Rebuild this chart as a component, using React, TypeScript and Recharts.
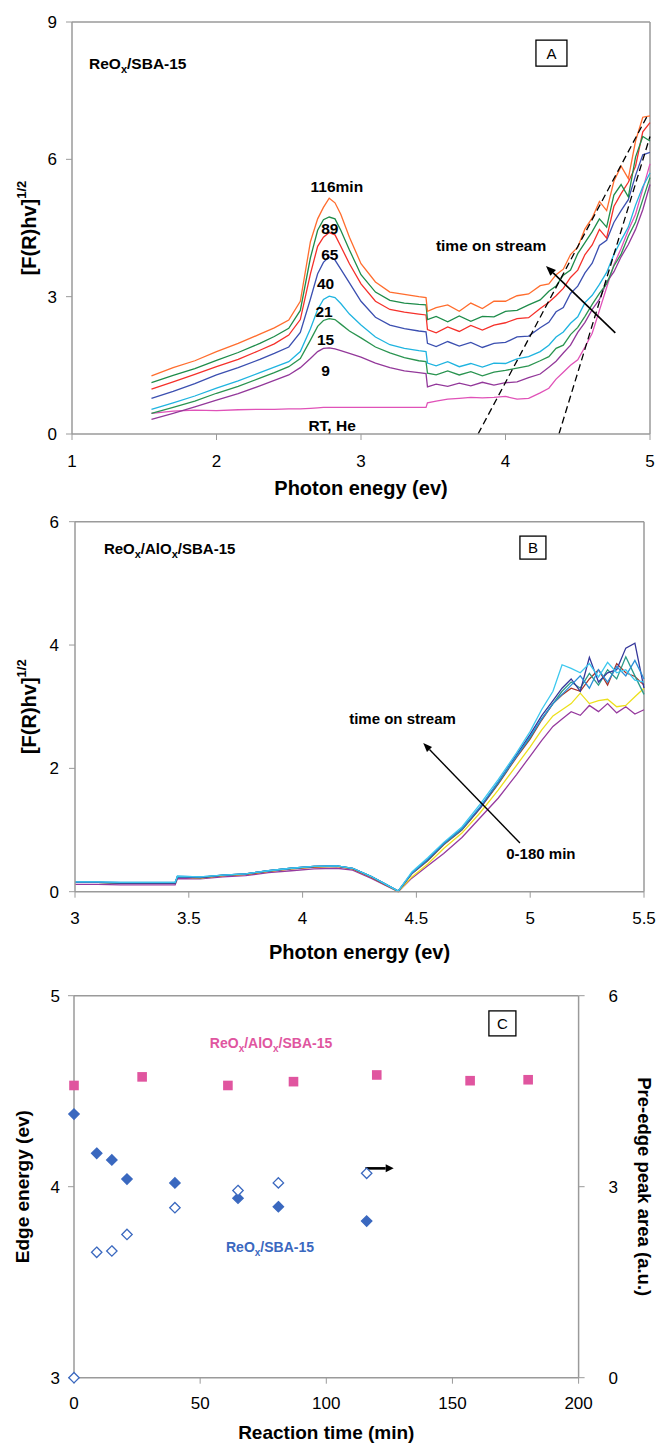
import React from 'react';
import { LineChart, Line, ScatterChart, Scatter, XAxis, YAxis, ReferenceLine, ReferenceDot, Label } from 'recharts';

const FONT = '"Liberation Sans", Arial, Helvetica, sans-serif';
const AXIS_GRAY = '#9a9a9a';

// ---------------- Panel A data ----------------
const aXTicks = [1, 2, 3, 4, 5];
const aYTicks = [0, 3, 6, 9];
const aEnergy = [1.55,1.7,1.85,2.0,2.15,2.3,2.4,2.5,2.58,2.65,2.7,2.74,2.78,2.82,2.86,2.92,3.0,3.1,3.2,3.3,3.4,3.45,3.46,3.52,3.6,3.68,3.76,3.84,3.92,4.0,4.08,4.16,4.24,4.3,4.35,4.4,4.45,4.5,4.55,4.6,4.65,4.7,4.75,4.8,4.85,4.9,4.95,5.0];
const a116min = [1.27,1.45,1.60,1.80,1.98,2.18,2.32,2.49, 2.90,4.20,4.70,4.95,5.15,5.05,4.80,4.30, 3.72,3.32,3.10,3.05,3.00,2.98,2.68,2.76, 2.82,2.68,2.86,2.74,2.90,2.90,3.02,3.06, 3.24,3.28,3.48,3.60,3.92,4.08,4.48,4.72, 5.08,4.88,5.52,5.85,5.58,6.40,6.92,6.95];
const a89min = [1.12,1.28,1.43,1.61,1.78,1.98,2.13,2.31, 2.70,3.85,4.45,4.68,4.74,4.70,4.45,4.02, 3.48,3.10,2.92,2.86,2.83,2.82,2.50,2.57, 2.45,2.58,2.46,2.57,2.56,2.68,2.70,2.82, 2.93,3.12,3.23,3.47,3.58,3.94,4.18,4.42, 4.70,4.52,5.22,5.45,5.18,6.05,6.50,6.40];
const a65min = [0.98,1.14,1.30,1.47,1.63,1.83,1.97,2.16, 2.50,3.50,4.10,4.30,4.40,4.35,4.10,3.72, 3.28,2.90,2.72,2.66,2.62,2.60,2.28,2.21, 2.34,2.24,2.37,2.27,2.38,2.43,2.52,2.54, 2.74,2.88,3.02,3.18,3.42,3.58,3.92,4.13, 4.47,4.28,4.97,5.25,5.50,5.85,6.60,6.80];
const a40min = [0.78,0.93,1.10,1.29,1.45,1.63,1.76,1.90, 2.22,2.95,3.50,3.75,3.87,3.80,3.60,3.30, 2.90,2.55,2.38,2.30,2.25,2.23,1.98,1.91, 2.02,1.92,2.00,1.89,1.98,2.00,2.12,2.14, 2.32,2.44,2.67,2.76,3.07,3.23,3.52,3.73, 4.12,4.23,4.62,4.88,5.12,5.65,6.10,6.15];
const a21min = [0.54,0.68,0.83,1.00,1.16,1.34,1.46,1.58, 1.80,2.30,2.72,2.94,3.01,2.98,2.85,2.62, 2.38,2.12,1.95,1.87,1.82,1.80,1.55,1.49, 1.58,1.47,1.54,1.46,1.55,1.54,1.64,1.69, 1.80,1.94,2.12,2.23,2.42,2.56,2.87,3.03, 3.27,3.53,3.92,4.23,4.52,5.00,5.40,5.70];
const a15min = [0.45,0.58,0.72,0.89,1.04,1.22,1.34,1.47, 1.65,2.05,2.35,2.48,2.52,2.50,2.40,2.25, 2.10,1.90,1.77,1.67,1.60,1.58,1.33,1.29, 1.38,1.29,1.36,1.27,1.35,1.39,1.44,1.49, 1.60,1.69,1.87,1.94,2.17,2.33,2.57,2.83, 3.07,3.28,3.67,3.93,4.32,4.63,5.12,5.60];
const a9min = [0.32,0.45,0.59,0.74,0.88,1.05,1.17,1.29, 1.45,1.65,1.80,1.87,1.88,1.86,1.82,1.76, 1.68,1.55,1.45,1.38,1.34,1.32,1.03,1.09, 1.04,1.11,1.05,1.13,1.07,1.12,1.14,1.23, 1.31,1.46,1.59,1.77,1.94,2.22,2.44,2.72, 2.94,3.32,3.54,3.87,4.14,4.47,4.90,5.45];
const aRTHe = [0.45,0.50,0.52,0.51,0.53,0.54,0.54,0.55, 0.55,0.56,0.57,0.58,0.58,0.58,0.58,0.58, 0.58,0.58,0.58,0.58,0.58,0.58,0.68,0.72, 0.76,0.78,0.80,0.79,0.80,0.82,0.76,0.78, 0.90,1.00,1.20,1.35,1.50,1.62,1.90,2.20, 2.70,3.20,3.70,4.05,4.45,4.80,5.35,5.90];
const aRows = aEnergy.map((e, i) => ({ e, rt: aRTHe[i], m9: a9min[i], m15: a15min[i], m21: a21min[i], m40: a40min[i], m65: a65min[i], m89: a89min[i], m116: a116min[i] }));

// ---------------- Panel B data ----------------
const bXTicks = [3, 3.5, 4, 4.5, 5, 5.5];
const bYTicks = [0, 2, 4, 6];
const bEnergy = [3.0,3.1,3.2,3.3,3.44,3.45,3.55,3.65,3.75,3.85,3.95,4.05,4.15,4.22,4.3,4.36,4.42,4.48,4.55,4.62,4.7,4.78,4.86,4.94,5.0,5.05,5.1,5.14,5.18,5.22,5.26,5.3,5.34,5.38,5.42,5.46,5.5];
const bPurple = [0.12,0.12,0.11,0.11,0.11,0.21,0.21,0.24,0.26,0.31,0.34,0.37,0.38,0.35,0.22,0.11,0.00,0.22,0.42,0.62,0.88,1.20,1.52,1.90,2.20,2.45,2.68,2.80,2.92,2.86,3.02,2.92,3.05,2.90,3.00,2.88,2.95];
const bYellow = [0.15,0.15,0.14,0.14,0.14,0.24,0.22,0.26,0.28,0.33,0.37,0.40,0.41,0.37,0.24,0.12,0.00,0.24,0.45,0.70,0.95,1.28,1.65,2.05,2.35,2.62,2.85,2.95,3.05,3.22,3.05,3.10,3.12,3.00,3.02,3.16,3.30];
const bRed = [0.15,0.15,0.14,0.14,0.14,0.24,0.23,0.26,0.28,0.33,0.37,0.40,0.41,0.37,0.24,0.12,0.01,0.29,0.50,0.76,1.00,1.35,1.75,2.18,2.48,2.78,3.05,3.19,3.30,3.25,3.45,3.60,3.35,3.70,3.55,3.49,3.35];
const bTeal = [0.15,0.15,0.14,0.14,0.14,0.24,0.23,0.27,0.29,0.34,0.38,0.41,0.42,0.38,0.25,0.13,0.01,0.30,0.51,0.77,1.01,1.36,1.76,2.20,2.50,2.80,3.05,3.25,3.40,3.30,3.54,3.35,3.60,3.45,3.81,3.50,3.20];
const bNavy = [0.15,0.15,0.14,0.14,0.14,0.24,0.23,0.27,0.29,0.34,0.38,0.41,0.42,0.38,0.25,0.13,0.01,0.30,0.52,0.78,1.02,1.36,1.78,2.22,2.55,2.85,3.10,3.30,3.45,3.25,3.80,3.40,3.55,3.60,3.95,4.03,3.30];
const bSky = [0.16,0.16,0.15,0.15,0.15,0.25,0.24,0.27,0.29,0.34,0.38,0.41,0.42,0.38,0.25,0.13,0.01,0.30,0.53,0.78,1.02,1.38,1.78,2.20,2.52,2.80,3.05,3.20,3.35,3.50,3.30,3.60,3.40,3.65,3.50,3.75,3.45];
const bCyan = [0.16,0.16,0.15,0.15,0.15,0.25,0.24,0.27,0.29,0.34,0.38,0.41,0.42,0.38,0.25,0.13,0.01,0.32,0.55,0.80,1.05,1.42,1.82,2.25,2.60,2.95,3.25,3.68,3.62,3.55,3.70,3.48,3.72,3.55,3.60,3.43,3.40];
const bRows = bEnergy.map((e, i) => ({ e, purple: bPurple[i], yellow: bYellow[i], red: bRed[i], teal: bTeal[i], navy: bNavy[i], sky: bSky[i], cyan: bCyan[i] }));

// ---------------- Panel C data ----------------
const cXTicks = [0, 50, 100, 150, 200];
const cLeftTicks = [3, 4, 5];
const cRightTicks = [0, 3, 6];
const cTimeAl = [0, 27, 61, 87, 120, 157, 180];
const cEdgeAl = [4.53, 4.575, 4.53, 4.55, 4.585, 4.555, 4.56];
const cTimeRe = [0, 9, 15, 21, 40, 65, 81, 116];
const cEdgeRe = [4.38, 4.175, 4.14, 4.04, 4.02, 3.94, 3.895, 3.82];
const cPreEdgeRe = [0, 1.97, 1.99, 2.25, 2.67, 2.94, 3.06, 3.21];
const cAlRows = cTimeAl.map((t, i) => ({ t, v: cEdgeAl[i] }));
const cReRows = cTimeRe.map((t, i) => ({ t, v: cEdgeRe[i] }));
const cPreRows = cTimeRe.map((t, i) => ({ t, v: cPreEdgeRe[i] }));

// ---------------- helpers ----------------
const PINK_C = '#e0559f';
const BLUE_C = '#3a68bf';

const tickStyle = { fontSize: 17, fill: '#000', fontFamily: FONT };
const axisLineStyle = { stroke: AXIS_GRAY, strokeWidth: 1.5 };
const tickLineStyle = { stroke: AXIS_GRAY, strokeWidth: 1 };

const center = (vb: any) => ({ cx: vb.x + (vb.width || 0) / 2, cy: vb.y + (vb.height || 0) / 2 });

const textNote = (content: React.ReactNode, size: number, anchor: 'start' | 'middle' = 'middle', color = '#000') => (p: any) => {
  const { cx, cy } = center(p.viewBox);
  return (
    <text x={cx} y={cy} dy="0.36em" textAnchor={anchor} fontFamily={FONT} fontWeight="bold" fontSize={size} fill={color}>
      {content}
    </text>
  );
};

const boxNote = (letter: string, w: number, h: number) => (p: any) => {
  const { cx, cy } = center(p.viewBox);
  return (
    <g>
      <rect x={cx - w / 2} y={cy - h / 2} width={w} height={h} fill="#fff" stroke="#000" strokeWidth={1.3} />
      <text x={cx} y={cy} dy="0.36em" textAnchor="middle" fontFamily={FONT} fontSize={15} fill="#000">{letter}</text>
    </g>
  );
};

const note = (key: string, x: number, y: number, render: (p: any) => any, yAxisId?: string) => (
  <ReferenceDot key={key} x={x} y={y} r={1} fill="none" stroke="none" ifOverflow="visible" label={render} {...(yAxisId ? { yAxisId } : {})} />
);

const arrowShape = (width: number, headLen: number, headHalf: number) => (p: any) => {
  const { x1, y1, x2, y2 } = p;
  const a = Math.atan2(y2 - y1, x2 - x1);
  const bx = x2 - headLen * Math.cos(a);
  const by = y2 - headLen * Math.sin(a);
  const nx = -Math.sin(a) * headHalf;
  const ny = Math.cos(a) * headHalf;
  return (
    <g>
      <line x1={x1} y1={y1} x2={bx} y2={by} stroke="#000" strokeWidth={width} />
      <polygon points={`${x2},${y2} ${bx + nx},${by + ny} ${bx - nx},${by - ny}`} fill="#000" />
    </g>
  );
};

const xTitle = (text: string, baselineDy: number, size: number) => (p: any) => {
  const vb = p.viewBox;
  return (
    <text x={vb.x + vb.width / 2} y={vb.y + baselineDy} textAnchor="middle" fontFamily={FONT} fontWeight="bold" fontSize={size} fill="#000">{text}</text>
  );
};

const yTitle = (content: React.ReactNode, dxFromLeft: number, size: number, rot: number) => (p: any) => {
  const vb = p.viewBox;
  const cx = vb.x + dxFromLeft;
  const cy = vb.y + vb.height / 2;
  return (
    <text transform={`rotate(${rot} ${cx} ${cy})`} x={cx} y={cy} dy="0.36em" textAnchor="middle" fontFamily={FONT} fontWeight="bold" fontSize={size} fill="#000">{content}</text>
  );
};

const fofr = (
  <>
    [F(R)hv]<tspan fontSize={13} dy={-10}>1/2</tspan>
  </>
);

const reoxSba = (sub: number) => (
  <>
    ReO<tspan fontSize={sub} dy={4}>x</tspan><tspan dy={-4}>/SBA-15</tspan>
  </>
);
const reoxAloxSba = (sub: number) => (
  <>
    ReO<tspan fontSize={sub} dy={4}>x</tspan><tspan dy={-4}>/AlO</tspan><tspan fontSize={sub} dy={4}>x</tspan><tspan dy={-4}>/SBA-15</tspan>
  </>
);

const squareShape = (p: any) => <rect x={p.cx - 4.8} y={p.cy - 4.8} width={9.6} height={9.6} fill={PINK_C} />;
const diamondShape = (filled: boolean) => (p: any) => (
  <polygon
    points={`${p.cx},${p.cy - 5.2} ${p.cx + 5.2},${p.cy} ${p.cx},${p.cy + 5.2} ${p.cx - 5.2},${p.cy}`}
    fill={filled ? BLUE_C : '#fff'}
    stroke={BLUE_C}
    strokeWidth={1.3}
  />
);

// ---------------- panels ----------------
function PanelA() {
  const lw = 1.3;
  return (
    <LineChart width={657} height={500} data={aRows} margin={{ top: 22, right: 7, bottom: 0, left: 0 }}>
      <XAxis dataKey="e" type="number" domain={[1, 5]} ticks={aXTicks} interval={0} height={66} tick={tickStyle} tickSize={6} tickMargin={15} axisLine={axisLineStyle} tickLine={tickLineStyle}>
        <Label content={xTitle('Photon enegy (ev)', 61, 20)} />
      </XAxis>
      <YAxis type="number" domain={[0, 9]} ticks={aYTicks} interval={0} width={72} tick={tickStyle} tickSize={6} tickMargin={9} axisLine={axisLineStyle} tickLine={tickLineStyle}>
        <Label content={yTitle(fofr, 29, 20, -90)} />
      </YAxis>
      <ReferenceLine y={9} stroke={AXIS_GRAY} strokeWidth={1.5} />
      <ReferenceLine x={5} stroke={AXIS_GRAY} strokeWidth={1.5} />
      <Line dataKey="rt" stroke="#e052b8" strokeWidth={lw} dot={false} isAnimationActive={false} />
      <Line dataKey="m9" stroke="#93389a" strokeWidth={lw} dot={false} isAnimationActive={false} />
      <Line dataKey="m15" stroke="#2a9450" strokeWidth={lw} dot={false} isAnimationActive={false} />
      <Line dataKey="m21" stroke="#1fb4e0" strokeWidth={lw} dot={false} isAnimationActive={false} />
      <Line dataKey="m40" stroke="#3b4fb0" strokeWidth={lw} dot={false} isAnimationActive={false} />
      <Line dataKey="m65" stroke="#f5302a" strokeWidth={lw} dot={false} isAnimationActive={false} />
      <Line dataKey="m89" stroke="#1e8c4a" strokeWidth={lw} dot={false} isAnimationActive={false} />
      <Line dataKey="m116" stroke="#ff6d2e" strokeWidth={lw} dot={false} isAnimationActive={false} />
      <ReferenceLine segment={[{ x: 3.81, y: 0 }, { x: 4.99, y: 7.0 }]} stroke="#000" strokeWidth={1.3} strokeDasharray="7 4" />
      <ReferenceLine segment={[{ x: 4.37, y: 0 }, { x: 5.0, y: 6.5 }]} stroke="#000" strokeWidth={1.3} strokeDasharray="7 4" />
      <ReferenceLine segment={[{ x: 4.76, y: 2.21 }, { x: 4.28, y: 3.67 }]} shape={arrowShape(1.6, 10, 4)} />
      {note('lblA', 1.118, 8.1, textNote(reoxSba(11), 15.5, 'start'))}
      {note('boxA', 4.318, 8.32, boxNote('A', 31, 26))}
      {note('l116', 2.833, 5.4, textNote('116min', 15.5))}
      {note('l89', 2.784, 4.49, textNote('89', 15.5))}
      {note('l65', 2.784, 3.93, textNote('65', 15.5))}
      {note('l40', 2.755, 3.3, textNote('40', 15.5))}
      {note('l21', 2.744, 2.67, textNote('21', 15.5))}
      {note('l15', 2.755, 2.07, textNote('15', 15.5))}
      {note('l9', 2.755, 1.38, textNote('9', 15.5))}
      {note('lrt', 2.8, 0.18, textNote('RT, He', 15.5))}
      {note('tos', 3.9, 4.13, textNote('time on stream', 15.5))}
    </LineChart>
  );
}

function PanelB() {
  const lw = 1.3;
  return (
    <LineChart width={657} height={472} data={bRows} margin={{ top: 21.7, right: 13, bottom: 0, left: 0 }}>
      <XAxis dataKey="e" type="number" domain={[3, 5.5]} ticks={bXTicks} interval={0} height={80.3} tick={tickStyle} tickSize={6} tickMargin={14} axisLine={axisLineStyle} tickLine={tickLineStyle}>
        <Label content={xTitle('Photon energy (ev)', 67.3, 20)} />
      </XAxis>
      <YAxis type="number" domain={[0, 6]} ticks={bYTicks} interval={0} width={75} tick={tickStyle} tickSize={6} tickMargin={10} axisLine={axisLineStyle} tickLine={tickLineStyle}>
        <Label content={yTitle(fofr, 29, 20, -90)} />
      </YAxis>
      <ReferenceLine y={6} stroke={AXIS_GRAY} strokeWidth={1.5} />
      <ReferenceLine x={5.5} stroke={AXIS_GRAY} strokeWidth={1.5} />
      <Line dataKey="purple" stroke="#963a9e" strokeWidth={lw} dot={false} isAnimationActive={false} />
      <Line dataKey="yellow" stroke="#ece01c" strokeWidth={lw} dot={false} isAnimationActive={false} />
      <Line dataKey="red" stroke="#a8342a" strokeWidth={lw} dot={false} isAnimationActive={false} />
      <Line dataKey="teal" stroke="#2a9a8a" strokeWidth={lw} dot={false} isAnimationActive={false} />
      <Line dataKey="navy" stroke="#35379a" strokeWidth={lw} dot={false} isAnimationActive={false} />
      <Line dataKey="sky" stroke="#2a8fd8" strokeWidth={lw} dot={false} isAnimationActive={false} />
      <Line dataKey="cyan" stroke="#3cc8ee" strokeWidth={lw} dot={false} isAnimationActive={false} />
      <ReferenceLine segment={[{ x: 4.955, y: 0.79 }, { x: 4.53, y: 2.41 }]} shape={arrowShape(1.4, 9, 3.5)} />
      {note('lblB', 3.127, 5.557, textNote(reoxAloxSba(11), 15, 'start'))}
      {note('boxB', 5.012, 5.58, boxNote('B', 26, 23))}
      {note('tosB', 4.439, 2.8, textNote('time on stream', 15))}
      {note('range', 5.047, 0.61, textNote('0-180 min', 15))}
    </LineChart>
  );
}

function PanelC() {
  return (
    <ScatterChart width={657} height={484} margin={{ top: 35.7, right: 0, bottom: 0, left: 0 }}>
      <XAxis dataKey="t" type="number" domain={[0, 200]} ticks={cXTicks} interval={0} height={66.3} tick={tickStyle} tickSize={6} tickMargin={13} axisLine={axisLineStyle} tickLine={tickLineStyle}>
        <Label content={xTitle('Reaction time (min)', 61, 19)} />
      </XAxis>
      <YAxis yAxisId="left" dataKey="v" type="number" domain={[3, 5]} ticks={cLeftTicks} interval={0} width={74} tick={tickStyle} tickSize={6} tickMargin={8} axisLine={axisLineStyle} tickLine={tickLineStyle}>
        <Label content={yTitle('Edge energy (ev)', 22, 19, -90)} />
      </YAxis>
      <YAxis yAxisId="right" orientation="right" dataKey="v" type="number" domain={[0, 6]} ticks={cRightTicks} interval={0} width={78.4} tick={tickStyle} tickSize={6} tickMargin={24} axisLine={axisLineStyle} tickLine={tickLineStyle}>
        <Label content={yTitle('Pre-edge peak area (a.u.)', 66, 18.5, 90)} />
      </YAxis>
      <ReferenceLine yAxisId="left" y={5} stroke={AXIS_GRAY} strokeWidth={1.5} />
      <Scatter yAxisId="left" data={cAlRows} dataKey="v" shape={squareShape} isAnimationActive={false} />
      <Scatter yAxisId="left" data={cReRows} dataKey="v" shape={diamondShape(true)} isAnimationActive={false} />
      <Scatter yAxisId="right" data={cPreRows} dataKey="v" shape={diamondShape(false)} isAnimationActive={false} />
      <ReferenceLine yAxisId="left" segment={[{ x: 115.5, y: 4.096 }, { x: 126.7, y: 4.096 }]} shape={arrowShape(2.6, 8, 4)} />
      {note('boxC', 169.8, 4.855, boxNote('C', 27, 25), 'left')}
      {note('lblAl', 78.1, 4.752, textNote(reoxAloxSba(10), 14, 'middle', PINK_C), 'left')}
      {note('lblRe', 77.7, 3.684, textNote(reoxSba(10), 14, 'middle', BLUE_C), 'left')}
    </ScatterChart>
  );
}

export default function App() {
  return (
    <div style={{ position: 'absolute', left: 0, top: 0, width: 657, height: 1444, background: '#fff', overflow: 'hidden' }}>
      <div style={{ position: 'absolute', left: 0, top: 0 }}><PanelA /></div>
      <div style={{ position: 'absolute', left: 0, top: 960 }}><PanelC /></div>
      <div style={{ position: 'absolute', left: 0, top: 500 }}><PanelB /></div>
    </div>
  );
}
